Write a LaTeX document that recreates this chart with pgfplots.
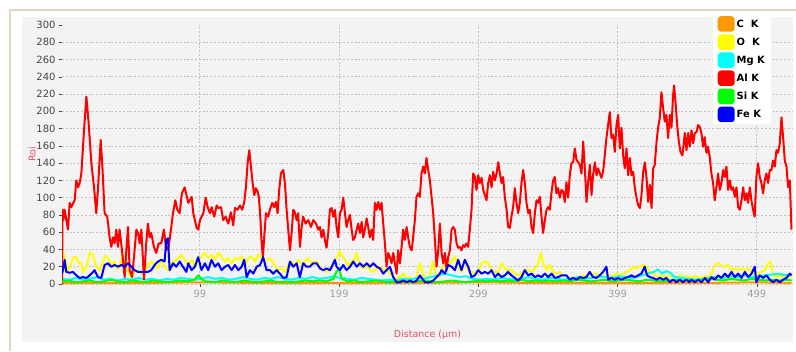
\documentclass[border=0pt]{standalone}
\usepackage{fontspec}
\setmainfont{DejaVu Sans}
\usepackage{pgfplots}
\usepackage{pgfplotstable}
\pgfplotsset{compat=1.18}

\definecolor{panelgray}{RGB}{243,243,243}
\definecolor{framebeige}{RGB}{222,214,190}
\definecolor{labelpink}{RGB}{226,78,104}
\definecolor{tickdark}{RGB}{70,70,70}
\definecolor{ticklight}{RGB}{160,160,160}
\definecolor{gridgray}{RGB}{196,196,196}
\definecolor{cC}{RGB}{255,153,0}
\definecolor{cO}{RGB}{255,255,0}
\definecolor{cMg}{RGB}{0,255,255}
\definecolor{cAl}{RGB}{255,0,0}
\definecolor{cSi}{RGB}{0,255,0}
\definecolor{cFe}{RGB}{0,0,255}

% Al K line profile (Roi counts vs distance in micrometres)
\pgfplotstableread{
x y
0 0
0.4 86
1.0 74
1.9 86
4.3 63
5.5 94
6.7 89
9.1 97
10.3 120
11.5 112
12.7 117
13.9 128
15.8 178
17.5 217
19.1 187
21.1 140
23.0 112
24.6 82
25.8 109
27.8 167
29.0 136
30.6 82
32.5 78
34.2 54
35.4 43
36.6 54
37.8 47
39.0 63
40.2 43
41.4 63
43.1 39
45.0 8
46.2 39
47.4 66
48.6 16
50.3 8
51.7 31
53.4 63
54.6 59
55.8 47
57.0 63
58.9 5
60.5 47
61.7 70
62.9 54
64.1 59
66.0 43
67.7 36
69.4 47
71.3 47
73.2 63
74.9 39
76.6 43
78.5 66
79.7 82
81.4 97
82.8 86
84.5 82
86.1 105
88.1 112
90.7 94
93.1 101
94.3 82
96.7 65
97.9 63
99.1 74
101.5 82
103.2 100
104.6 89
106.3 82
107.5 89
109.3 78
111.1 91
112.2 88
114.2 89
115.8 74
117.5 78
119.4 70
121.3 83
123.0 68
124.2 88
126.1 86
127.8 91
129.4 86
130.9 95
132.1 112
133.3 140
134.5 155
135.7 136
136.9 117
138.1 103
139.3 111
140.5 107
141.4 101
142.4 78
143.4 47
144.3 31
145.2 54
146.5 82
148.1 78
149.3 86
151.0 94
152.4 89
153.6 95
154.8 82
156.0 109
157.2 128
158.9 132
160.1 117
161.3 86
162.5 63
163.7 39
164.9 59
166.1 86
167.3 83
168.5 74
169.6 82
170.9 43
172.1 66
173.2 78
175.0 70
176.8 74
178.8 66
180.4 74
182.4 70
184.0 63
185.2 66
186.4 54
187.6 63
188.8 51
190.0 42
191.2 59
192.4 86
193.6 88
194.8 78
196.0 86
197.2 66
198.4 54
199.6 82
200.8 86
202.0 100
203.2 82
204.4 66
205.5 74
206.8 80
208.0 63
209.1 51
210.4 54
211.6 63
212.7 70
214.0 59
215.2 72
216.3 54
217.5 63
218.8 76
219.9 66
221.1 54
222.3 63
223.5 51
224.7 94
225.9 86
227.1 95
228.3 86
229.5 94
230.7 70
231.9 47
233.1 20
234.3 36
235.5 31
236.7 24
237.9 36
239.1 24
240.3 12
241.4 39
242.7 24
243.9 43
245.0 63
246.2 51
247.5 66
248.6 54
249.8 43
251.1 39
252.2 54
253.4 74
254.6 101
255.8 105
257.0 101
258.2 128
259.4 136
260.6 128
261.8 146
263.0 132
264.2 120
265.4 101
266.6 82
267.8 51
269.0 20
270.2 39
271.4 70
272.6 36
273.8 24
275.0 36
276.2 16
277.3 31
278.6 39
279.8 63
280.9 66
282.1 63
283.4 47
284.5 42
285.7 43
286.9 39
288.1 45
289.3 43
290.5 47
291.7 43
292.9 63
294.1 86
295.3 128
296.5 124
297.7 109
298.9 126
300.1 117
301.3 123
302.5 109
303.7 103
304.9 97
306.1 117
307.3 126
308.5 112
309.7 130
310.9 120
312.1 128
313.3 141
314.5 128
315.7 117
316.8 124
318.0 101
319.3 86
320.4 66
321.6 65
322.8 78
324.0 89
325.2 111
326.4 94
327.6 82
328.8 94
330.0 117
331.2 132
332.4 117
333.6 94
334.8 82
336.0 86
337.2 66
338.4 59
339.6 82
340.8 97
341.9 94
343.2 101
344.4 78
345.5 59
346.8 74
348.0 86
349.1 89
350.3 86
351.5 105
352.7 120
353.9 124
355.1 105
356.3 111
357.5 100
358.7 109
359.9 107
361.1 95
362.3 118
363.5 100
364.7 126
365.9 140
367.1 141
368.3 157
369.5 144
370.7 141
371.9 138
373.1 128
374.3 165
375.5 134
376.7 95
377.9 118
379.1 138
380.3 103
381.4 126
382.7 141
383.9 126
385.0 134
386.3 128
387.4 123
388.6 130
389.8 149
391.0 169
392.2 184
393.4 199
394.6 169
395.8 173
397.0 153
398.2 184
399.4 196
400.6 157
401.8 181
403.0 149
404.2 134
405.4 157
406.6 126
407.8 146
409.0 126
410.2 130
411.4 111
412.6 100
413.8 91
415.0 88
416.2 103
417.4 130
418.6 141
419.8 123
421.0 95
422.2 115
423.4 88
424.6 134
425.7 138
427.0 165
428.1 181
429.3 192
430.5 222
431.7 204
432.9 188
434.1 196
435.3 169
436.5 196
437.7 181
438.9 219
439.6 230
440.8 207
441.8 184
443.0 165
444.2 153
445.6 149
447.3 175
448.5 155
449.7 175
450.9 159
452.1 178
453.3 163
454.5 175
455.7 176
456.8 184
458.0 182
459.2 175
460.4 159
461.6 170
462.8 152
464.0 159
465.2 147
466.4 128
467.6 117
468.8 97
470.0 112
471.2 128
472.4 109
473.6 117
474.8 132
476.0 124
477.2 136
478.4 109
479.6 120
480.8 109
482.0 112
483.2 101
484.4 112
485.6 89
486.8 86
488.0 97
489.2 112
490.4 97
491.6 105
492.7 94
494.0 112
495.1 97
496.3 86
497.5 78
498.7 124
499.9 140
501.1 124
502.3 117
503.5 105
504.7 120
505.9 128
507.1 117
508.3 132
509.5 132
510.7 143
511.9 136
513.1 155
514.3 152
515.5 163
516.7 193
517.9 170
519.1 143
520.3 136
521.5 112
522.7 120
523.9 63
}\alK

% Fe K line profile
\pgfplotstableread{
x y
0 12
0.7 16
1.9 28
3.1 14
5.5 13
7.9 14
10.3 10
12.7 7
15.0 8
17.5 7
19.9 10
22.3 14
23.4 16
25.8 8
28.2 7
30.6 22
33.0 24
35.4 20
37.8 22
40.2 20
42.6 22
45.0 20
47.4 24
49.8 20
52.2 16
54.6 14
57.0 14
59.4 14
61.7 14
64.1 16
66.5 22
68.9 26
71.3 28
73.7 26
74.9 51
76.1 53
77.3 16
79.7 24
82.1 20
84.5 26
86.9 20
89.3 14
90.7 24
93.1 16
95.4 20
97.8 31
100.2 16
102.6 24
105.0 16
107.4 28
109.8 20
112.2 24
114.6 16
117.0 20
119.4 22
121.8 16
124.2 22
126.6 16
129.0 20
130.9 28
132.6 8
135.0 16
137.4 12
139.8 20
142.2 22
144.5 31
146.9 16
149.3 16
151.7 12
154.1 16
156.5 12
158.9 7
161.3 8
163.7 26
166.1 20
168.5 24
170.8 8
173.2 24
175.6 20
178.0 20
180.4 24
182.9 24
185.3 18
187.7 16
190.1 18
192.5 16
194.9 24
196.0 28
197.2 20
199.6 16
202.0 22
204.4 16
206.8 20
209.2 26
211.6 20
214.0 24
216.4 20
218.8 24
221.2 20
223.6 24
226.0 20
228.4 18
230.7 12
233.1 16
235.5 20
237.9 8
240.3 2
242.7 2
245.1 4
247.5 2
249.9 4
252.3 2
254.7 4
257.1 10
258.3 7
260.7 2
264.2 2
266.6 4
269.0 8
271.4 12
272.6 16
275.0 12
277.4 22
279.8 20
282.2 16
284.5 28
286.9 16
289.3 28
291.7 20
294.1 8
296.5 10
298.9 16
301.3 12
303.7 14
306.1 12
308.5 16
310.9 8
313.3 12
315.7 8
318.1 10
320.4 14
322.8 10
325.2 7
327.6 4
330.0 8
332.4 16
334.8 10
337.2 12
339.6 8
342.0 10
344.4 8
346.8 12
349.2 8
351.6 12
354.0 7
356.3 8
358.7 10
362.3 10
364.7 5
367.1 7
369.5 5
371.9 8
374.3 7
376.6 8
379.0 14
381.4 8
383.8 7
386.2 10
388.6 14
391.0 20
392.2 5
394.6 7
397.0 5
399.4 7
401.8 5
404.2 7
406.6 8
409.0 10
411.3 8
413.7 10
416.1 12
418.5 20
420.2 10
422.1 8
424.5 7
426.9 5
429.3 7
431.7 5
434.1 7
436.5 2
438.9 5
441.3 2
443.7 5
446.0 2
448.4 5
450.5 2
452.1 5
454.5 2
456.9 5
459.3 2
461.7 7
464.1 2
466.4 8
468.8 5
471.2 10
473.6 7
476.0 12
478.4 8
480.8 14
483.2 8
485.6 12
488.0 7
490.4 14
492.8 8
495.2 12
497.5 20
498.7 2
501.1 10
503.5 7
505.9 10
508.3 5
510.7 2
513.1 5
515.5 2
517.9 5
520.3 7
522.7 12
523.9 10
}\feK

% O K line profile
\pgfplotstableread{
x y
0 31
0.7 36
1.9 31
4.3 16
6.2 22
7.9 31
10.3 31
12.0 24
13.9 24
15.1 14
17.5 20
19.9 36
22.3 34
24.6 20
27.0 16
29.0 24
31.1 33
33.0 30
35.4 22
37.3 26
39.5 18
41.4 20
43.8 34
45.7 32
47.9 12
49.8 8
52.2 14
54.6 16
57.0 12
59.4 14
61.7 22
64.1 26
66.5 22
68.9 18
71.3 28
73.7 20
76.1 16
78.5 24
80.9 26
83.3 30
85.7 34
88.1 28
90.7 22
93.1 28
95.5 20
97.9 26
100.3 32
102.7 36
105.1 30
107.4 34
109.8 28
112.2 36
114.6 32
117.0 26
119.4 30
121.8 24
124.2 30
126.6 28
129.0 32
131.4 20
133.8 30
136.2 32
138.6 26
141.0 34
143.3 30
145.7 24
148.1 30
150.5 28
152.9 22
155.3 16
157.7 18
160.1 14
162.5 22
164.9 26
167.3 20
169.7 28
172.1 22
174.4 26
176.8 30
179.2 24
182.9 26
185.3 20
187.7 16
190.1 14
192.5 18
194.9 24
197.2 30
199.2 38
200.8 34
203.2 28
205.6 22
208.0 26
210.4 30
211.6 36
214.0 22
216.4 18
218.8 22
221.2 16
223.6 14
226.0 18
228.4 20
230.7 16
233.1 18
235.5 12
237.9 8
240.3 6
242.7 8
245.1 12
247.5 6
249.9 8
252.3 5
254.7 8
257.1 24
259.5 10
261.8 6
264.2 10
266.2 26
268.6 10
271.0 8
272.6 18
275.0 24
277.4 22
279.8 26
282.2 32
284.5 20
286.9 14
289.3 28
291.7 16
294.1 14
296.5 12
298.9 14
301.3 24
303.7 26
306.1 24
308.5 16
310.9 14
313.3 14
315.7 24
318.1 18
320.4 16
322.8 16
325.2 12
327.6 10
330.0 12
332.4 16
334.8 16
337.2 14
339.6 18
342.0 24
343.9 36
345.6 24
348.0 16
350.4 22
352.8 14
355.1 12
357.5 14
359.9 10
362.3 10
364.7 7
367.1 8
369.5 6
371.9 8
374.3 10
376.6 9
379.0 10
381.4 12
383.8 12
386.2 10
388.6 9
391.0 8
393.4 10
395.8 9
398.2 12
400.6 10
403.0 12
405.4 14
407.8 16
410.2 20
412.5 18
414.9 20
417.3 22
419.7 20
422.1 14
424.5 12
426.9 10
429.3 8
431.7 10
434.1 8
436.5 10
438.9 9
441.3 8
443.7 10
446.0 8
448.4 9
450.5 8
452.1 7
454.5 9
456.9 8
459.3 7
461.7 9
464.1 8
466.4 12
468.8 22
471.2 24
473.6 22
476.0 20
478.4 22
480.8 16
483.2 18
485.6 16
488.0 18
490.4 16
492.8 18
495.2 14
497.5 12
499.9 12
502.3 14
504.7 16
507.1 24
509.0 26
510.7 10
513.1 8
515.5 10
517.9 9
520.3 8
522.7 10
523.9 8
}\oK

% Mg K line profile
\pgfplotstableread{
x y
0 6
5 5
10 7
15 5
20 6
25 8
30 5
35 6
40 4
45 6
50 5
55 7
60 5
65 6
70 4
75 6
80 5
85 7
90 6
95 5
100 6
105 8
110 6
115 7
120 5
125 6
130 8
135 6
140 5
145 7
150 6
155 8
160 6
165 5
170 7
175 6
180 8
185 6
190 7
195 9
200 7
205 6
210 5
215 7
220 6
225 5
230 4
235 5
240 4
245 6
250 5
255 7
260 6
265 8
270 10
275 12
280 10
285 8
290 9
295 6
300 5
305 6
310 5
315 7
320 6
325 5
330 6
335 8
340 6
345 5
350 7
355 6
360 5
365 6
370 8
375 6
380 7
385 9
390 8
395 7
400 9
405 8
410 7
415 9
420 12
425 14
428 17
431 12
434 15
437 13
440 8
445 7
450 6
455 5
460 6
465 7
470 8
475 7
480 9
485 8
490 10
495 8
500 9
505 10
510 11
515 12
520 10
524 11
}\mgK

% Si K line profile
\pgfplotstableread{
x y
0 3
5 4
10 2
15 3
20 4
25 2
30 3
35 5
40 3
45 2
50 4
55 3
60 2
65 4
70 3
75 2
80 3
85 4
90 3
95 5
98 10
100 6
103 3
110 2
115 4
120 3
125 2
130 4
135 3
140 2
145 3
150 4
155 2
160 3
165 2
170 3
175 4
180 3
185 4
190 3
195 6
197 14
199 18
201 6
205 3
210 4
215 2
220 3
225 4
230 3
235 2
240 3
245 4
250 2
255 3
260 4
265 3
270 2
275 3
280 4
285 3
290 2
295 3
300 4
305 3
310 4
315 3
320 4
325 3
330 5
335 3
340 4
345 3
350 4
355 3
360 4
365 3
370 5
375 4
380 3
385 4
390 5
395 3
400 4
405 5
410 4
415 3
420 5
425 4
430 3
435 4
440 5
445 4
450 5
455 4
460 5
465 6
470 5
475 4
480 6
485 5
490 4
495 6
500 5
505 4
510 5
515 4
520 5
524 4
}\siK

% C K line profile (stays at the noise floor)
\pgfplotstableread{
x y
0 1
50 1
100 2
150 1
200 1
250 1
300 2
350 1
400 1
450 1
500 2
524 1
}\cK

\begin{document}
\begin{tikzpicture}[x=1bp,y=1bp]
\useasboundingbox (0,0) rectangle (796,351);
\fill[white] (0,0) rectangle (796,351);
\fill[panelgray] (22,9) rectangle (793,334);
\draw[framebeige, line width=2bp] (10,0) -- (10,341) -- (796,341);
\begin{axis}[
  at={(62bp,67bp)}, anchor=south west, scale only axis,
  width=731bp, height=259bp,
  xmin=0, xmax=525, ymin=0, ymax=300,
  xtick={99,199,299,399,499},
  ytick={0,20,...,280},
  extra y ticks={300}, extra y tick style={grid=none},
  grid=major,
  major grid style={gridgray, line width=0.7bp, dash pattern=on 2bp off 1.8bp},
  axis line style={draw=none},
  tick pos=left, tick align=outside, major tick length=3bp,
  tick style={tickdark, line width=0.6bp},
  /pgf/number format/assume math mode=true,
  yticklabel style={tickdark, font=\fontsize{10}{12}\selectfont},
  xticklabel style={ticklight, font=\fontsize{10}{12}\selectfont},
  xlabel={Distance (µm)}, ylabel={Roi},
  label style={labelpink, font=\fontsize{9.5}{11}\selectfont},
  xlabel style={at={(axis description cs:0.5,-0.197)}, anchor=center},
  ylabel style={at={(axis description cs:-0.041,0.5)}, anchor=center},
  every axis plot/.append style={line width=2bp, line join=round},
  legend image code/.code={\fill[rounded corners=2.5bp] (0bp,-6.5bp) rectangle (15bp,7bp);},
  legend cell align=left,
  legend style={at={(rel axis cs:0.8906,1.0425)}, anchor=north west,
    draw=none, fill=white, inner xsep=4.5bp, inner ysep=2bp,
    font=\fontsize{10}{12}\selectfont\bfseries, row sep=2.6bp,
    /tikz/every even column/.append style={column sep=2bp}},
]
\addplot[color=cC] table {\cK};
\addlegendentry{C~~K}
\addplot[color=cO] table {\oK};
\addlegendentry{O~~K}
\addplot[color=cMg] table {\mgK};
\addlegendentry{Mg K}
\addplot[color=cAl] table {\alK};
\addlegendentry{Al K}
\addplot[color=cSi] table {\siK};
\addlegendentry{Si K}
\addplot[color=cFe] table {\feK};
\addlegendentry{Fe K}
\end{axis}
\end{tikzpicture}
\end{document}
